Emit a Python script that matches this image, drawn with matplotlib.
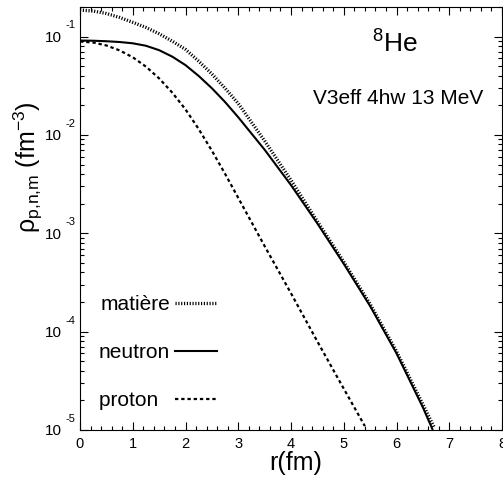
import matplotlib
matplotlib.use('Agg')
import matplotlib.pyplot as plt
import numpy as np
from matplotlib.ticker import FixedLocator, LogLocator, NullFormatter, MultipleLocator

plt.rcParams['font.family'] = 'Liberation Sans'
plt.rcParams['mathtext.fontset'] = 'custom'
plt.rcParams['mathtext.rm'] = 'Liberation Sans'
plt.rcParams['mathtext.it'] = 'Liberation Sans:italic'

# densities, as log10(rho / fm^-3)
r_mat = [0.0, 0.25, 0.5, 0.75, 1.0, 1.25, 1.5, 1.75, 2.0, 2.25, 2.5, 2.75, 3.0,
         3.5, 4.0, 4.5, 5.0, 5.5, 6.0, 6.5, 6.72]
log_mat = [-0.730, -0.740, -0.765, -0.805, -0.855, -0.907, -0.971, -1.047, -1.130,
           -1.250, -1.380, -1.525, -1.680, -2.06, -2.46, -2.88, -3.29, -3.72, -4.20,
           -4.74, -4.98]

r_neu = [0.0, 0.25, 0.5, 0.75, 1.0, 1.25, 1.5, 1.75, 2.0, 2.25, 2.5, 2.75, 3.0,
         3.5, 4.0, 4.5, 5.0, 5.5, 6.0, 6.5, 6.68]
log_neu = [-1.040, -1.042, -1.047, -1.055, -1.068, -1.093, -1.138, -1.204, -1.290,
           -1.400, -1.525, -1.665, -1.820, -2.15, -2.51, -2.90, -3.31, -3.74, -4.22,
           -4.77, -4.99]

r_pro = [0.0, 0.25, 0.5, 0.75, 1.0, 1.25, 1.5, 1.75, 2.0, 2.25, 2.5, 2.75, 3.0,
         3.5, 4.0, 4.5, 5.0, 5.4]
log_pro = [-1.05, -1.06, -1.09, -1.14, -1.21, -1.305, -1.425, -1.57, -1.74, -1.94,
           -2.16, -2.395, -2.64, -3.13, -3.61, -4.10, -4.58, -4.96]

labels = ['mati\u00e8re', 'neutron', 'proton  ']
y_exps = [-5, -4, -3, -2, -1]

fig = plt.figure(figsize=(5.03, 4.78), dpi=100)
ax = fig.add_axes([80 / 503, 1 - 430 / 478, 422 / 503, 423 / 478])

ax.plot(r_mat, 10 ** np.array(log_mat), color='black', lw=2.4,
        linestyle=(0, (0.35, 0.5)), label=labels[0])
ax.plot(r_neu, 10 ** np.array(log_neu), color='black', lw=1.5,
        linestyle='-', label=labels[1])
ax.plot(r_pro, 10 ** np.array(log_pro), color='black', lw=1.6,
        linestyle=(0, (1.5, 1.3)), label=labels[2])

ax.set_yscale('log')
ax.set_xlim(0, 8)
ax.set_ylim(1e-5, 0.2)

ax.xaxis.set_major_locator(MultipleLocator(1))
ax.xaxis.set_minor_locator(MultipleLocator(0.2))
ax.yaxis.set_major_locator(FixedLocator([10.0 ** e for e in y_exps]))
ax.yaxis.set_minor_locator(LogLocator(base=10, subs=np.arange(2, 10)))
ax.yaxis.set_minor_formatter(NullFormatter())
ax.set_yticklabels(['10'] * len(y_exps))

ax.tick_params(which='both', direction='in', top=True, right=True, width=0.8)
ax.tick_params(which='major', length=6)
ax.tick_params(which='minor', length=3)
ax.tick_params(axis='x', labelsize=10.5, pad=5)
ax.tick_params(axis='y', labelsize=11, pad=13)
for s in ax.spines.values():
    s.set_linewidth(0.8)

for e in y_exps:
    ax.annotate(str(e), xy=(0, 10.0 ** e), xycoords=ax.get_yaxis_transform(),
                xytext=(-3.5, 8), textcoords='offset points',
                ha='right', va='center', fontsize=8)

ax.set_xlabel('r(fm)', fontsize=18, labelpad=0)
ax.xaxis.set_label_coords((296 - 80) / 422, (430 - 451) / 423)
fig.text(28 / 503, 1 - 167 / 478, '\u03c1$_{\\rm p{,}n{,}m}$ (fm$^{-3}$)',
         rotation=90, ha='center', va='center', fontsize=18)

ax.text(0.745, 0.913, r'$^{8}$He', transform=ax.transAxes,
        ha='center', va='center', fontsize=19)
ax.text(0.753, 0.784, 'V3eff 4hw 13 MeV', transform=ax.transAxes,
        ha='center', va='center', fontsize=15)

ax.legend(loc='center left', bbox_to_anchor=(0.045, 0.183), frameon=False,
          markerfirst=False, fontsize=15, handlelength=2.0,
          handletextpad=0.25, labelspacing=1.4, borderpad=0, borderaxespad=0)

fig.savefig('out.png', dpi=100)
